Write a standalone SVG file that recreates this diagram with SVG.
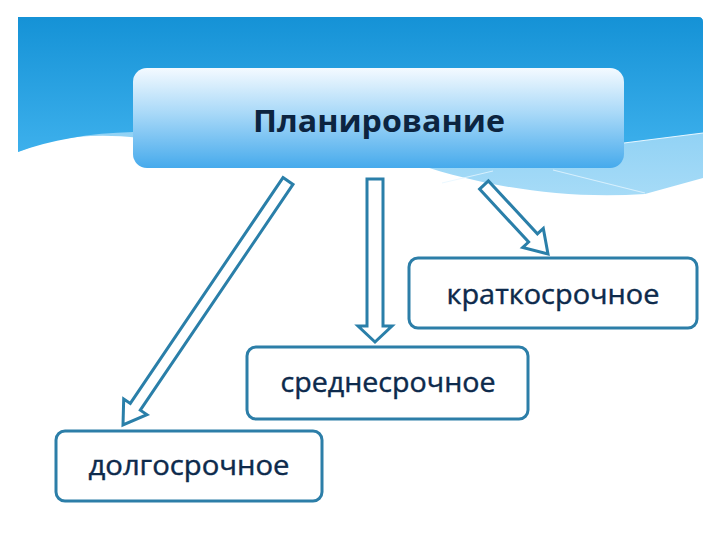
<svg xmlns="http://www.w3.org/2000/svg" width="720" height="540" viewBox="0 0 720 540">
<defs>
<linearGradient id="bg" x1="0" y1="0" x2="0" y2="1">
<stop offset="0" stop-color="#1592d6"/>
<stop offset="1" stop-color="#3db0ec"/>
</linearGradient>
<linearGradient id="wave" x1="0" y1="0" x2="0" y2="1">
<stop offset="0" stop-color="#6cc2f0"/>
<stop offset="1" stop-color="#a6dbf7"/>
</linearGradient>
<linearGradient id="main" x1="0" y1="0" x2="0" y2="1">
<stop offset="0" stop-color="#f4faff"/>
<stop offset="0.45" stop-color="#a9d9f8"/>
<stop offset="1" stop-color="#46aaec"/>
</linearGradient>
<style>
.box{fill:#ffffff;stroke:#2c7ea8;stroke-width:3}
.arrow{fill:#ffffff;stroke:#2a7fa9;stroke-width:3;stroke-linejoin:miter}
.lbl{font-family:"Open Sans","Noto Sans","DejaVu Sans",sans-serif;font-size:27px;font-weight:normal;fill:#0d2a4c;stroke:#0d2a4c;stroke-width:0.4;text-anchor:middle}
.title{font-family:"Open Sans","Noto Sans","DejaVu Sans",sans-serif;font-size:31px;font-weight:bold;fill:#0c2440;text-anchor:middle}
</style>
</defs>
<rect width="720" height="540" fill="#ffffff"/>
<g id="background">
<path d="M18,17 H698 Q703,17 703,22 V178 L645,194 C560,200 480,185 420,165 L140,138 C90,132 50,138 18,152 Z" fill="url(#wave)"/>
<path d="M18,17 H698 Q703,17 703,22 V133 L624,143 L133,132 C90,133 50,140 18,152 Z" fill="url(#bg)"/>
<path d="M624,143 L703,133" stroke="#e6f6ff" stroke-width="1.2" fill="none"/>
<path d="M442,183 L493,171 M553,170 L645,193" stroke="#e6f6ff" stroke-width="1" fill="none" opacity="0.8"/>
</g>
<g id="planning">
<rect x="133" y="68" width="491" height="100" rx="14" fill="url(#main)"/>
<text class="title" x="379" y="132" textLength="252" lengthAdjust="spacingAndGlyphs">Планирование</text>
</g>
<g id="connectors">
<polygon class="arrow" points="283,177.6 293,184.4 140.3,410.2 146.9,414.6 123,425 123.7,399 130.3,403.4"/>
<polygon class="arrow" points="367,179 383,179 383,326 392,326 375,342 358,326 367,326"/>
<polygon class="arrow" points="488.4,180.9 479.6,189.1 528.6,242 522.7,247.4 548,254 543.3,228.4 537.4,233.8"/>
</g>
<g id="short">
<rect class="box" x="409" y="258" width="288" height="70" rx="9"/>
<text class="lbl" x="553" y="304" textLength="213" lengthAdjust="spacingAndGlyphs">краткосрочное</text>
</g>
<g id="medium">
<rect class="box" x="247" y="347" width="281" height="72" rx="9"/>
<text class="lbl" x="388" y="392" textLength="215" lengthAdjust="spacingAndGlyphs">среднесрочное</text>
</g>
<g id="long">
<rect class="box" x="56" y="431" width="266" height="70" rx="9"/>
<text class="lbl" x="189" y="475" textLength="201" lengthAdjust="spacingAndGlyphs">долгосрочное</text>
</g>
</svg>
